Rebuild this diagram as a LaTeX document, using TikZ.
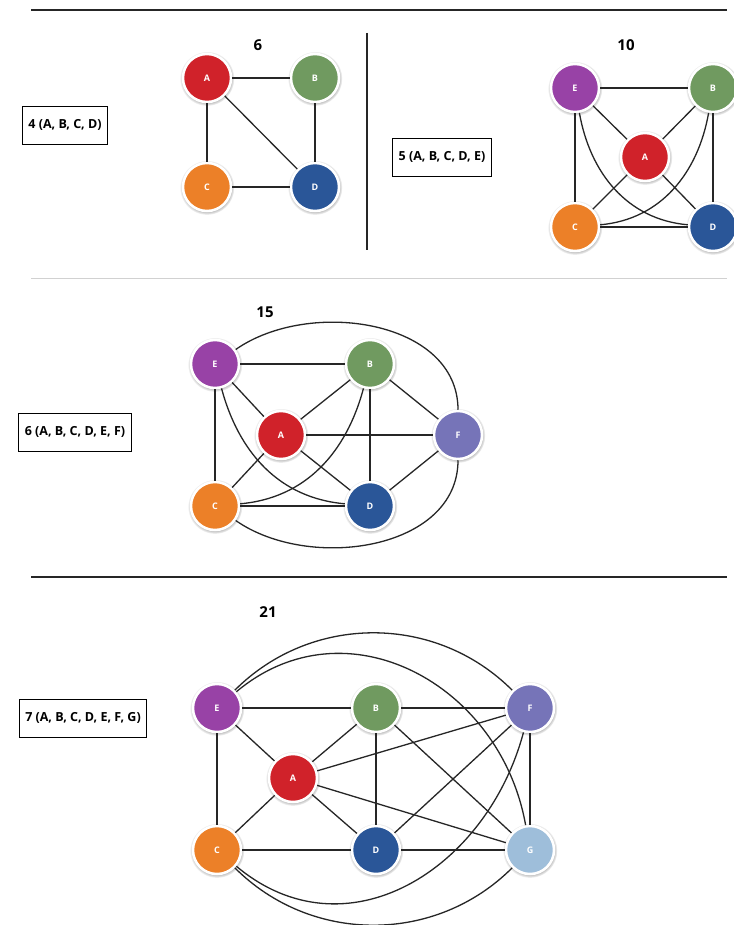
\documentclass[tikz,border=0pt]{standalone}
\usepackage{fontspec}
\setmainfont{Open Sans}
\usetikzlibrary{positioning,shadows}

\definecolor{nodeA}{RGB}{208,34,42}
\definecolor{nodeB}{RGB}{112,154,96}
\definecolor{nodeC}{RGB}{236,128,40}
\definecolor{nodeD}{RGB}{42,86,152}
\definecolor{nodeE}{RGB}{152,66,166}
\definecolor{nodeF}{RGB}{118,116,184}
\definecolor{nodeG}{RGB}{158,190,218}
\definecolor{wiregray}{RGB}{38,38,38}

\begin{document}
\begin{tikzpicture}[x=1pt, y=1pt, on grid,
	vertex/.style={circle, draw=white, line width=2.5pt, minimum size=48pt, inner sep=0pt, text=white, font=\bfseries\fontsize{9}{9}\selectfont, circular drop shadow={shadow xshift=0pt, shadow yshift=-0.5pt, shadow scale=1.14, opacity=0.6}},
	count/.style={draw, black, line width=0.9pt, minimum height=38pt, inner xsep=6pt, font=\bfseries\fontsize{12.5}{12.5}\selectfont},
	total/.style={font=\bfseries\fontsize{15}{15}\selectfont},
	wire/.style={draw=wiregray, line width=1.3pt},
	rule/.style={draw=wiregray, line width=1.4pt}]
	\useasboundingbox[fill=white] (0,0) rectangle (733,-925);
	
	\draw[rule] (31,-10) -- (727,-10);
	\draw[draw=black!18, line width=0.8pt] (31,-278) -- (727,-278);
	\draw[rule] (31,-577) -- (727,-577);
	\draw[wire] (367,-33) -- (367,-250);
	
	\node[count] (L4) at (65,-125) {4 (A, B, C, D)};
	\node[total] (T4) at (258,-45) {6};
	\node[vertex, fill=nodeA] (A4) at (207,-78) {A};
	\node[vertex, fill=nodeB] (B4) [right=108pt of A4] {B};
	\node[vertex, fill=nodeC] (C4) [below=109pt of A4] {C};
	\node[vertex, fill=nodeD] (D4) [right=108pt of C4] {D};
	
	\draw[wire] (A4) -- (B4);
	\draw[wire] (A4) -- (C4);
	\draw[wire] (A4) -- (D4);
	\draw[wire] (B4) -- (D4);
	\draw[wire] (C4) -- (D4);
	
	\node[count] (L5) at (442,-157) {5 (A, B, C, D, E)};
	\node[total] (T5) at (626,-45) {10};
	\node[vertex, fill=nodeE] (E5) at (575,-88) {E};
	\node[vertex, fill=nodeB] (B5) [right=138pt of E5] {B};
	\node[vertex, fill=nodeC] (C5) [below=139pt of E5] {C};
	\node[vertex, fill=nodeD] (D5) [right=138pt of C5] {D};
	\node[vertex, fill=nodeA] (A5) [below right=69pt and 70pt of E5] {A};
	
	\draw[wire] (E5) -- (B5);
	\draw[wire] (E5) -- (A5);
	\draw[wire] (A5) -- (B5);
	\draw[wire] (E5) -- (C5);
	\draw[wire] (B5) -- (D5);
	\draw[wire] (C5) -- (D5);
	\draw[wire] (A5) -- (C5);
	\draw[wire] (A5) -- (D5);
	\draw[wire] (E5) to[out=-80, in=175] (D5);
	\draw[wire] (B5) to[out=-100, in=5] (C5);
	
	\node[count] (L6) at (75,-432) {6 (A, B, C, D, E, F)};
	\node[total] (T6) at (265,-312) {15};
	\node[vertex, fill=nodeE] (E6) at (215,-364) {E};
	\node[vertex, fill=nodeB] (B6) [right=155pt of E6] {B};
	\node[vertex, fill=nodeC] (C6) [below=142pt of E6] {C};
	\node[vertex, fill=nodeD] (D6) [right=155pt of C6] {D};
	\node[vertex, fill=nodeA] (A6) at (281,-435) {A};
	\node[vertex, fill=nodeF] (F6) at (458,-435) {F};
	
	\draw[wire] (E6) -- (B6);
	\draw[wire] (E6) -- (A6);
	\draw[wire] (A6) -- (B6);
	\draw[wire] (A6) -- (F6);
	\draw[wire] (B6) -- (F6);
	\draw[wire] (E6) -- (C6);
	\draw[wire] (B6) -- (D6);
	\draw[wire] (C6) -- (D6);
	\draw[wire] (A6) -- (C6);
	\draw[wire] (A6) -- (D6);
	\draw[wire] (D6) -- (F6);
	\draw[wire] (E6) to[out=-75, in=175] (D6);
	\draw[wire] (B6) to[out=-105, in=5] (C6);
	\draw[wire] (E6) to[out=35, in=90] (F6);
	\draw[wire] (C6) to[out=-35, in=-90] (F6);
	
	\node[count] (L7) at (83,-718) {7 (A, B, C, D, E, F, G)};
	\node[total] (T7) at (268,-612) {21};
	\node[vertex, fill=nodeE] (E7) at (217,-708) {E};
	\node[vertex, fill=nodeB] (B7) [right=159pt of E7] {B};
	\node[vertex, fill=nodeF] (F7) [right=154pt of B7] {F};
	\node[vertex, fill=nodeC] (C7) [below=142pt of E7] {C};
	\node[vertex, fill=nodeD] (D7) [right=159pt of C7] {D};
	\node[vertex, fill=nodeG] (G7) [right=154pt of D7] {G};
	\node[vertex, fill=nodeA] (A7) at (293,-778) {A};
	
	\draw[wire] (E7) -- (B7);
	\draw[wire] (B7) -- (F7);
	\draw[wire] (E7) -- (C7);
	\draw[wire] (B7) -- (D7);
	\draw[wire] (F7) -- (G7);
	\draw[wire] (C7) -- (D7);
	\draw[wire] (D7) -- (G7);
	\draw[wire] (E7) -- (A7);
	\draw[wire] (A7) -- (B7);
	\draw[wire] (A7) -- (F7);
	\draw[wire] (A7) -- (C7);
	\draw[wire] (A7) -- (D7);
	\draw[wire] (A7) -- (G7);
	\draw[wire] (B7) -- (G7);
	\draw[wire] (D7) -- (F7);
	\draw[wire] (E7) to[out=45, in=135] (F7);
	\draw[wire] (E7) to[out=40, in=100, looseness=1.15] (G7);
	\draw[wire] (C7) to[out=-40, in=-105, looseness=1.15] (F7);
	\draw[wire] (C7) to[out=-45, in=-135] (G7);
	
\end{tikzpicture}
\end{document}
